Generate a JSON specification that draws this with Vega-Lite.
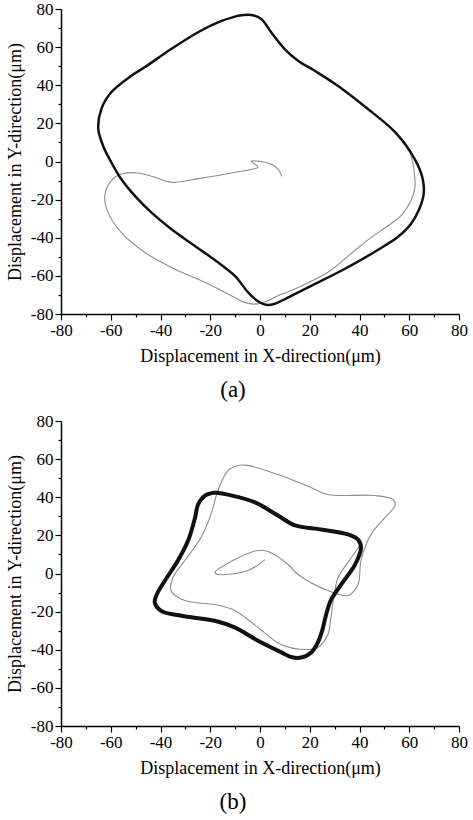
{
  "$schema": "https://vega.github.io/schema/vega-lite/v6.json",
  "padding": {"top": 0, "left": 6, "right": 5, "bottom": 2},
  "background": "white",
  "config": {
    "view": {"stroke": null},
    "font": "Liberation Serif",
    "style": {"guide-label": {"font": "Liberation Serif"}, "guide-title": {"font": "Liberation Serif"}},
    "axis": {
      "grid": false,
      "domainColor": "#000",
      "domainWidth": 1.5,
      "tickColor": "#000",
      "tickWidth": 1.2,
      "labelColor": "#000",
      "titleColor": "#000",
      "labelFont": "Liberation Serif",
      "titleFont": "Liberation Serif",
      "labelFontSize": 17,
      "titleFontSize": 18,
      "titleFontWeight": "normal",
      "labelPadding": 2,
      "labelFlush": false,
      "labelOverlap": false
    },
    "title": {"font": "Liberation Serif", "fontWeight": "normal", "color": "#000"}
  },
  "datasets": {
    "pts": [
      {"p":"a","s":"g","i":0,"x":8.8,"y":-7.8},
      {"p":"a","s":"g","i":1,"x":7.2,"y":-3.9},
      {"p":"a","s":"g","i":2,"x":4.5,"y":-1.5},
      {"p":"a","s":"g","i":3,"x":1.9,"y":-0.4},
      {"p":"a","s":"g","i":4,"x":-1.0,"y":0.2},
      {"p":"a","s":"g","i":5,"x":-3.6,"y":0.1},
      {"p":"a","s":"g","i":6,"x":-0.8,"y":-2.9},
      {"p":"a","s":"g","i":7,"x":-8.8,"y":-5.4},
      {"p":"a","s":"g","i":8,"x":-24.9,"y":-9.0},
      {"p":"a","s":"g","i":9,"x":-35.7,"y":-10.9},
      {"p":"a","s":"g","i":10,"x":-42.3,"y":-8.3},
      {"p":"a","s":"g","i":11,"x":-49.0,"y":-6.0},
      {"p":"a","s":"g","i":12,"x":-55.8,"y":-6.6},
      {"p":"a","s":"g","i":13,"x":-59.8,"y":-10.0},
      {"p":"a","s":"g","i":14,"x":-62.4,"y":-17.9},
      {"p":"a","s":"g","i":15,"x":-61.1,"y":-26.7},
      {"p":"a","s":"g","i":16,"x":-55.8,"y":-37.2},
      {"p":"a","s":"g","i":17,"x":-46.4,"y":-47.6},
      {"p":"a","s":"g","i":18,"x":-34.3,"y":-56.4},
      {"p":"a","s":"g","i":19,"x":-22.2,"y":-63.4},
      {"p":"a","s":"g","i":20,"x":-11.5,"y":-70.4},
      {"p":"a","s":"g","i":21,"x":-6.2,"y":-73.9},
      {"p":"a","s":"g","i":22,"x":-2.1,"y":-74.8},
      {"p":"a","s":"g","i":23,"x":3.2,"y":-73.0},
      {"p":"a","s":"g","i":24,"x":7.2,"y":-70.4},
      {"p":"a","s":"g","i":25,"x":14.0,"y":-66.9},
      {"p":"a","s":"g","i":26,"x":27.3,"y":-58.1},
      {"p":"a","s":"g","i":27,"x":36.0,"y":-49.0},
      {"p":"a","s":"g","i":28,"x":44.7,"y":-39.8},
      {"p":"a","s":"g","i":29,"x":51.5,"y":-33.7},
      {"p":"a","s":"g","i":30,"x":57.0,"y":-28.0},
      {"p":"a","s":"g","i":31,"x":60.5,"y":-21.0},
      {"p":"a","s":"g","i":32,"x":62.2,"y":-14.4},
      {"p":"a","s":"g","i":33,"x":62.2,"y":-8.0},
      {"p":"a","s":"g","i":34,"x":61.3,"y":0.0},
      {"p":"a","s":"g","i":35,"x":59.5,"y":7.5},
      {"p":"a","s":"g","i":36,"x":54.3,"y":15.4},

      {"p":"a","s":"k","i":0,"x":-8.8,"y":76.5},
      {"p":"a","s":"k","i":1,"x":-3.5,"y":76.9},
      {"p":"a","s":"k","i":2,"x":0.5,"y":74.8},
      {"p":"a","s":"k","i":3,"x":4.5,"y":67.8},
      {"p":"a","s":"k","i":4,"x":9.9,"y":59.0},
      {"p":"a","s":"k","i":5,"x":15.3,"y":52.9},
      {"p":"a","s":"k","i":6,"x":22.0,"y":47.6},
      {"p":"a","s":"k","i":7,"x":31.4,"y":39.6},
      {"p":"a","s":"k","i":8,"x":43.4,"y":27.5},
      {"p":"a","s":"k","i":9,"x":54.3,"y":15.4},
      {"p":"a","s":"k","i":10,"x":62.2,"y":1.3},
      {"p":"a","s":"k","i":11,"x":65.3,"y":-8.5},
      {"p":"a","s":"k","i":12,"x":65.8,"y":-17.0},
      {"p":"a","s":"k","i":13,"x":64.0,"y":-25.0},
      {"p":"a","s":"k","i":14,"x":60.5,"y":-33.0},
      {"p":"a","s":"k","i":15,"x":55.0,"y":-40.0},
      {"p":"a","s":"k","i":16,"x":50.1,"y":-44.2},
      {"p":"a","s":"k","i":17,"x":44.7,"y":-48.5},
      {"p":"a","s":"k","i":18,"x":34.0,"y":-56.4},
      {"p":"a","s":"k","i":19,"x":20.6,"y":-65.2},
      {"p":"a","s":"k","i":20,"x":11.0,"y":-71.5},
      {"p":"a","s":"k","i":21,"x":6.0,"y":-74.6},
      {"p":"a","s":"k","i":22,"x":2.5,"y":-75.2},
      {"p":"a","s":"k","i":23,"x":-0.8,"y":-73.3},
      {"p":"a","s":"k","i":24,"x":-4.8,"y":-68.6},
      {"p":"a","s":"k","i":25,"x":-10.2,"y":-59.9},
      {"p":"a","s":"k","i":26,"x":-16.9,"y":-52.9},
      {"p":"a","s":"k","i":27,"x":-26.3,"y":-44.2},
      {"p":"a","s":"k","i":28,"x":-35.7,"y":-35.4},
      {"p":"a","s":"k","i":29,"x":-43.7,"y":-26.7},
      {"p":"a","s":"k","i":30,"x":-50.4,"y":-17.9},
      {"p":"a","s":"k","i":31,"x":-55.8,"y":-9.2},
      {"p":"a","s":"k","i":32,"x":-59.8,"y":-0.4},
      {"p":"a","s":"k","i":33,"x":-63.1,"y":8.3},
      {"p":"a","s":"k","i":34,"x":-65.0,"y":17.0},
      {"p":"a","s":"k","i":35,"x":-63.8,"y":27.5},
      {"p":"a","s":"k","i":36,"x":-59.8,"y":36.3},
      {"p":"a","s":"k","i":37,"x":-51.7,"y":45.0},
      {"p":"a","s":"k","i":38,"x":-46.4,"y":49.4},
      {"p":"a","s":"k","i":39,"x":-35.7,"y":59.0},
      {"p":"a","s":"k","i":40,"x":-24.9,"y":67.8},
      {"p":"a","s":"k","i":41,"x":-16.9,"y":73.0},
      {"p":"a","s":"k","i":42,"x":-8.8,"y":76.5},

      {"p":"b","s":"g","i":0,"x":2.0,"y":7.3},
      {"p":"b","s":"g","i":1,"x":-4.8,"y":1.6},
      {"p":"b","s":"g","i":2,"x":-16.9,"y":-0.5},
      {"p":"b","s":"g","i":3,"x":-18.1,"y":0.5},
      {"p":"b","s":"g","i":4,"x":-10.1,"y":7.3},
      {"p":"b","s":"g","i":5,"x":-0.8,"y":12.1},
      {"p":"b","s":"g","i":6,"x":3.2,"y":11.5},
      {"p":"b","s":"g","i":7,"x":11.3,"y":4.7},
      {"p":"b","s":"g","i":8,"x":15.3,"y":-0.5},
      {"p":"b","s":"g","i":9,"x":27.3,"y":-8.9},
      {"p":"b","s":"g","i":10,"x":35.4,"y":-11.5},
      {"p":"b","s":"g","i":11,"x":39.4,"y":-5.8},
      {"p":"b","s":"g","i":12,"x":40.6,"y":6.8},
      {"p":"b","s":"g","i":13,"x":44.6,"y":20.5},
      {"p":"b","s":"g","i":14,"x":50.3,"y":29.4},
      {"p":"b","s":"g","i":15,"x":54.3,"y":35.7},
      {"p":"b","s":"g","i":16,"x":53.5,"y":38.8},
      {"p":"b","s":"g","i":17,"x":46.2,"y":40.9},
      {"p":"b","s":"g","i":18,"x":27.3,"y":41.4},
      {"p":"b","s":"g","i":19,"x":20.5,"y":45.1},
      {"p":"b","s":"g","i":20,"x":7.2,"y":51.9},
      {"p":"b","s":"g","i":21,"x":-4.8,"y":56.7},
      {"p":"b","s":"g","i":22,"x":-8.8,"y":56.7},
      {"p":"b","s":"g","i":23,"x":-12.9,"y":54.0},
      {"p":"b","s":"g","i":24,"x":-16.9,"y":43.5},
      {"p":"b","s":"g","i":25,"x":-19.7,"y":31.0},
      {"p":"b","s":"g","i":26,"x":-23.7,"y":18.9},
      {"p":"b","s":"g","i":27,"x":-30.2,"y":6.8},
      {"p":"b","s":"g","i":28,"x":-35.0,"y":-2.1},
      {"p":"b","s":"g","i":29,"x":-35.8,"y":-8.9},
      {"p":"b","s":"g","i":30,"x":-30.2,"y":-14.2},
      {"p":"b","s":"g","i":31,"x":-18.1,"y":-16.3},
      {"p":"b","s":"g","i":32,"x":-10.1,"y":-19.4},
      {"p":"b","s":"g","i":33,"x":-0.8,"y":-28.3},
      {"p":"b","s":"g","i":34,"x":8.4,"y":-37.2},
      {"p":"b","s":"g","i":35,"x":19.3,"y":-39.9},
      {"p":"b","s":"g","i":36,"x":23.3,"y":-38.8},
      {"p":"b","s":"g","i":37,"x":27.3,"y":-32.0},
      {"p":"b","s":"g","i":38,"x":28.5,"y":-23.1},
      {"p":"b","s":"g","i":39,"x":30.1,"y":-8.9},
      {"p":"b","s":"g","i":40,"x":31.4,"y":-2.1},
      {"p":"b","s":"g","i":41,"x":36.5,"y":8.0},
      {"p":"b","s":"g","i":42,"x":40.2,"y":14.7},

      {"p":"b","s":"k","i":0,"x":-18.1,"y":42.5},
      {"p":"b","s":"k","i":1,"x":-12.9,"y":41.4},
      {"p":"b","s":"k","i":2,"x":-2.0,"y":37.3},
      {"p":"b","s":"k","i":3,"x":7.2,"y":30.4},
      {"p":"b","s":"k","i":4,"x":14.1,"y":25.2},
      {"p":"b","s":"k","i":5,"x":24.5,"y":23.1},
      {"p":"b","s":"k","i":6,"x":35.4,"y":20.5},
      {"p":"b","s":"k","i":7,"x":39.4,"y":17.8},
      {"p":"b","s":"k","i":8,"x":40.6,"y":13.6},
      {"p":"b","s":"k","i":9,"x":38.2,"y":4.7},
      {"p":"b","s":"k","i":10,"x":32.6,"y":-5.8},
      {"p":"b","s":"k","i":11,"x":28.5,"y":-14.0},
      {"p":"b","s":"k","i":12,"x":26.5,"y":-22.0},
      {"p":"b","s":"k","i":13,"x":25.0,"y":-30.0},
      {"p":"b","s":"k","i":14,"x":23.3,"y":-36.0},
      {"p":"b","s":"k","i":15,"x":20.6,"y":-41.4},
      {"p":"b","s":"k","i":16,"x":16.6,"y":-44.1},
      {"p":"b","s":"k","i":17,"x":12.5,"y":-43.8},
      {"p":"b","s":"k","i":18,"x":8.6,"y":-41.4},
      {"p":"b","s":"k","i":19,"x":-0.8,"y":-35.3},
      {"p":"b","s":"k","i":20,"x":-10.2,"y":-28.3},
      {"p":"b","s":"k","i":21,"x":-18.2,"y":-24.8},
      {"p":"b","s":"k","i":22,"x":-31.6,"y":-22.2},
      {"p":"b","s":"k","i":23,"x":-39.7,"y":-19.6},
      {"p":"b","s":"k","i":24,"x":-42.3,"y":-15.2},
      {"p":"b","s":"k","i":25,"x":-41.5,"y":-11.0},
      {"p":"b","s":"k","i":26,"x":-38.2,"y":-3.7},
      {"p":"b","s":"k","i":27,"x":-33.0,"y":6.8},
      {"p":"b","s":"k","i":28,"x":-28.9,"y":17.3},
      {"p":"b","s":"k","i":29,"x":-26.1,"y":29.4},
      {"p":"b","s":"k","i":30,"x":-24.9,"y":36.2},
      {"p":"b","s":"k","i":31,"x":-22.1,"y":40.9},
      {"p":"b","s":"k","i":32,"x":-18.1,"y":42.5}
    ]
  },
  "spacing": 10,
  "vconcat": [
    {
      "width": 398,
      "height": 305,
      "title": {"text": "(a)", "orient": "bottom", "anchor": "middle", "fontSize": 23, "dx": -27, "offset": 14, "font": "Liberation Serif"},
      "data": {"name": "pts"},
      "transform": [{"filter": "datum.p === 'a'"}],
      "encoding": {
        "x": {"field": "x", "type": "quantitative", "scale": {"domain": [-80, 80], "nice": false, "zero": false},
          "axis": {"title": "Displacement in X-direction(μm)", "values": [-80,-70,-60,-50,-40,-30,-20,-10,0,10,20,30,40,50,60,70,80],
            "labelFont": "Liberation Serif", "titleFont": "Liberation Serif",
            "labelExpr": "datum.value % 20 === 0 ? '' + datum.value : ''",
            "tickSize": {"condition": {"test": "datum.value % 20 === 0", "value": 6}, "value": 3}, "titlePadding": 9}},
        "y": {"field": "y", "type": "quantitative", "scale": {"domain": [-80, 80], "nice": false, "zero": false},
          "axis": {"title": "Displacement in Y-direction(μm)", "values": [-80,-70,-60,-50,-40,-30,-20,-10,0,10,20,30,40,50,60,70,80],
            "labelFont": "Liberation Serif", "titleFont": "Liberation Serif",
            "labelExpr": "datum.value % 20 === 0 ? '' + datum.value : ''",
            "tickSize": {"condition": {"test": "datum.value % 20 === 0", "value": 6}, "value": 3}, "titlePadding": 6}},
        "order": {"field": "i", "type": "quantitative"}
      },
      "layer": [
        {"transform": [{"filter": "datum.s === 'g'"}], "mark": {"type": "line", "interpolate": "catmull-rom", "color": "#8c8c8c", "strokeWidth": 1.1}},
        {"transform": [{"filter": "datum.s === 'k'"}], "mark": {"type": "line", "interpolate": "catmull-rom", "color": "#111", "strokeWidth": 2.5}}
      ]
    },
    {
      "width": 398,
      "height": 305,
      "title": {"text": "(b)", "orient": "bottom", "anchor": "middle", "fontSize": 23, "dx": -27, "offset": 14, "font": "Liberation Serif"},
      "data": {"name": "pts"},
      "transform": [{"filter": "datum.p === 'b'"}],
      "encoding": {
        "x": {"field": "x", "type": "quantitative", "scale": {"domain": [-80, 80], "nice": false, "zero": false},
          "axis": {"title": "Displacement in X-direction(μm)", "values": [-80,-70,-60,-50,-40,-30,-20,-10,0,10,20,30,40,50,60,70,80],
            "labelFont": "Liberation Serif", "titleFont": "Liberation Serif",
            "labelExpr": "datum.value % 20 === 0 ? '' + datum.value : ''",
            "tickSize": {"condition": {"test": "datum.value % 20 === 0", "value": 6}, "value": 3}, "titlePadding": 9}},
        "y": {"field": "y", "type": "quantitative", "scale": {"domain": [-80, 80], "nice": false, "zero": false},
          "axis": {"title": "Displacement in Y-direction(μm)", "values": [-80,-70,-60,-50,-40,-30,-20,-10,0,10,20,30,40,50,60,70,80],
            "labelFont": "Liberation Serif", "titleFont": "Liberation Serif",
            "labelExpr": "datum.value % 20 === 0 ? '' + datum.value : ''",
            "tickSize": {"condition": {"test": "datum.value % 20 === 0", "value": 6}, "value": 3}, "titlePadding": 6}},
        "order": {"field": "i", "type": "quantitative"}
      },
      "layer": [
        {"transform": [{"filter": "datum.s === 'g'"}], "mark": {"type": "line", "interpolate": "catmull-rom", "color": "#8c8c8c", "strokeWidth": 1.1}},
        {"transform": [{"filter": "datum.s === 'k'"}], "mark": {"type": "line", "interpolate": "catmull-rom", "color": "#111", "strokeWidth": 4}}
      ]
    }
  ]
}
